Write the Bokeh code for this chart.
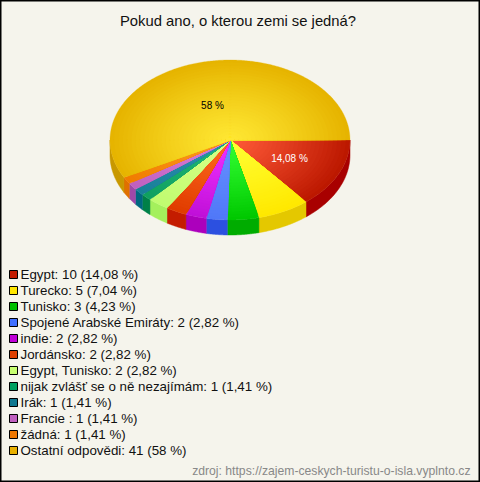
import numpy as np
from bokeh.plotting import figure
from bokeh.models import Range1d
from bokeh.core.properties import value
from bokeh.embed import file_html
from bokeh.resources import INLINE

title = "Pokud ano, o kterou zemi se jedná?"
source = "zdroj: https://zajem-ceskych-turistu-o-isla.vyplnto.cz"
categories = ["Egypt", "Turecko", "Tunisko", "Spojené Arabské Emiráty", "indie", "Jordánsko",
              "Egypt, Tunisko", "nijak zvlášť se o ně nezajímám", "Irák", "Francie ", "žádná",
              "Ostatní odpovědi"]
counts = [10, 5, 3, 2, 2, 2, 2, 1, 1, 1, 1, 41]
percents = ["14,08", "7,04", "4,23", "2,82", "2,82", "2,82", "2,82", "1,41", "1,41", "1,41", "1,41", "58"]
swatch = ["#c41c00", "#ffe600", "#00c000", "#4070ff", "#c000d8", "#e04000",
          "#c8ff70", "#00a060", "#107890", "#c060c0", "#f07800", "#e8b000"]
inner = ["#ff5a38", "#ffff33", "#33ff33", "#6690ff", "#f030ff", "#ff6a20",
         "#d8ff88", "#20b878", "#3090b0", "#d880d8", "#ff9a20", "#ffe833"]
outer = ["#bc1800", "#ffe800", "#00c800", "#5078f8", "#c010d8", "#e03c00",
         "#c0fc70", "#10a060", "#188098", "#c060c0", "#f07c00", "#e6b400"]
side = ["#a80000", "#e4c800", "#00ac00", "#2c50e0", "#ac00bc", "#c41c00",
        "#a4f05c", "#008048", "#006880", "#a048a8", "#e07000", "#c89800"]

W, H = 480, 482
CX, CY, RX, RY, DEPTH = 229.5, 139.5, 120, 80, 15
RINGS = 28


def lerp(a, b, f):
    ca = [int(a[i:i + 2], 16) for i in (1, 3, 5)]
    cb = [int(b[i:i + 2], 16) for i in (1, 3, 5)]
    return "#%02x%02x%02x" % tuple(round(x + (y - x) * f) for x, y in zip(ca, cb))


p = figure(width=W, height=H, output_backend="svg", toolbar_location=None,
           x_range=Range1d(0, W), y_range=Range1d(H, 0), min_border=0,
           background_fill_color="#f5f4ec", border_fill_color="#f5f4ec",
           outline_line_color="#000000", outline_line_width=2)
p.axis.visible = False
p.grid.visible = False

edges = np.cumsum([0] + counts) / sum(counts) * 2 * np.pi

# sides of the pie, only the part that faces the viewer
for i in range(len(counts)):
    a, b = edges[i], min(edges[i + 1], np.pi)
    if a >= np.pi:
        continue
    t = np.linspace(a, b, 40)
    x = CX + RX * np.cos(t)
    y = CY + RY * np.sin(t)
    p.patch(np.r_[x, x[::-1]], np.r_[y, y[::-1] + DEPTH], fill_color=side[i],
            line_color=side[i], line_width=0.5)

# top of the pie with a radial shading drawn from the rim inwards
for i in range(len(counts)):
    t = np.linspace(edges[i], edges[i + 1], max(8, int(counts[i] * 8)))
    for k in range(RINGS, 0, -1):
        f = k / RINGS
        col = lerp(inner[i], outer[i], f ** 1.15)
        x = np.r_[CX, CX + RX * f * np.cos(t)]
        y = np.r_[CY, CY + RY * f * np.sin(t)]
        p.patch(x, y, fill_color=col, line_color=col, line_width=0.3)

font = value("Liberation Sans")
p.text([237.5], [20], text=[title], text_font=font, text_font_size="14.8px", text_color="#111111",
       text_align="center", text_baseline="middle")
p.text([212], [104.5], text=[percents[11] + " %"], text_font=font, text_font_size="10px",
       text_color="#000000", text_align="center", text_baseline="middle")
p.text([289], [158], text=[percents[0] + " %"], text_font=font, text_font_size="10px",
       text_color="#ffffff", text_align="center", text_baseline="middle")

rows = [274 + 16 * i for i in range(len(categories))]
labels = [f"{c}: {n} ({q} %)" for c, n, q in zip(categories, counts, percents)]
p.scatter([13] * len(rows), rows, marker="square", size=8, fill_color=swatch,
          line_color="#000000", line_width=1)
p.text([20] * len(rows), rows, text=labels, text_font=font, text_font_size="13.33px",
       text_color="#111111", text_align="left", text_baseline="middle")
p.text([470], [470], text=[source], text_font=font, text_font_size="12.2px", text_color="#888888",
       text_align="right", text_baseline="middle")

open("out.html", "w").write(file_html(p, INLINE))
